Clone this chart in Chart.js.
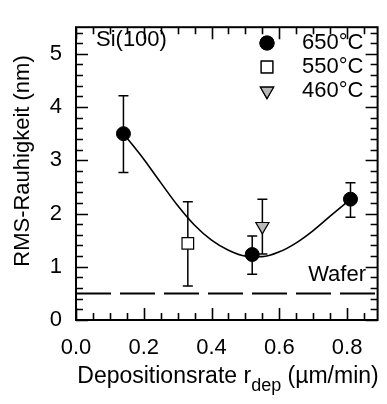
<!DOCTYPE html>
<html>
<head>
<meta charset="utf-8">
<script src="https://cdn.jsdelivr.net/npm/chart.js@4"></script>
<style>
  html, body { margin: 0; padding: 0; background: #fff; }
  #wrap { width: 387px; height: 404px; }
</style>
</head>
<body>
<div id="wrap"><canvas id="c" width="387" height="404"></canvas></div>
<script>
const FONT = '"Liberation Sans", Arial, sans-serif';

// 650 °C series
const x650 = [0.14, 0.52, 0.81];
const y650 = [3.50, 1.23, 2.27];
const lo650 = [2.77, 0.86, 1.93];
const hi650 = [4.21, 1.58, 2.58];

// 550 °C series
const x550 = [0.33];
const y550 = [1.44];
const lo550 = [0.64];
const hi550 = [2.22];

// 460 °C series
const x460 = [0.55];
const y460 = [1.76];
const lo460 = [1.24];
const hi460 = [2.27];

// fit curve through the 650 °C points
const fitX = [0.14, 0.20, 0.25, 0.30, 0.35, 0.40, 0.45, 0.50, 0.55, 0.60, 0.65, 0.70, 0.75, 0.81];
const fitY = [3.50, 3.02, 2.58, 2.15, 1.78, 1.50, 1.31, 1.20, 1.19, 1.28, 1.45, 1.68, 1.95, 2.27];

const waferLevel = 0.5;

const xTicks = [0.0, 0.2, 0.4, 0.6, 0.8];
const yTicks = [0, 1, 2, 3, 4, 5];
const xMinor = [0.05, 0.1, 0.15, 0.25, 0.3, 0.35, 0.45, 0.5, 0.55, 0.65, 0.7, 0.75, 0.85];
const yMinor = [0.2, 0.4, 0.6, 0.8, 1.2, 1.4, 1.6, 1.8, 2.2, 2.4, 2.6, 2.8, 3.2, 3.4, 3.6, 3.8, 4.2, 4.4, 4.6, 4.8, 5.2, 5.4];

const legendItems = [
    { label: '650°C', style: 'circle', fill: '#000', radius: 7 },
    { label: '550°C', style: 'rect', fill: '#fff', radius: 8.2 },
    { label: '460°C', style: 'triangle', fill: '#b8b8b8', radius: 7.6, rotation: 180 }
];

function toPoints(xs, ys) {
    const pts = [];
    for (let i = 0; i < xs.length; i++) {
        pts.push({ x: xs[i], y: ys[i] });
    }
    return pts;
}

// error bars, frame, inner ticks, legend and labels
const decorations = {
    id: 'decorations',
    beforeDatasetsDraw: function(chart) {
        const ctx = chart.ctx;
        const xs = chart.scales.x;
        const ys = chart.scales.y;
        const groups = [[x650, lo650, hi650], [x550, lo550, hi550], [x460, lo460, hi460]];
        ctx.save();
        ctx.strokeStyle = '#000';
        ctx.lineWidth = 1.5;
        for (let g = 0; g < groups.length; g++) {
            const gx = groups[g][0], glo = groups[g][1], ghi = groups[g][2];
            for (let i = 0; i < gx.length; i++) {
                const px = xs.getPixelForValue(gx[i]);
                const p1 = ys.getPixelForValue(glo[i]);
                const p2 = ys.getPixelForValue(ghi[i]);
                ctx.beginPath();
                ctx.moveTo(px, p1); ctx.lineTo(px, p2);
                ctx.moveTo(px - 5, p1); ctx.lineTo(px + 5, p1);
                ctx.moveTo(px - 5, p2); ctx.lineTo(px + 5, p2);
                ctx.stroke();
            }
        }
        ctx.restore();
    },
    afterDraw: function(chart) {
        const ctx = chart.ctx;
        const a = chart.chartArea;
        const xs = chart.scales.x;
        const ys = chart.scales.y;
        ctx.save();
        ctx.strokeStyle = '#000';
        ctx.lineWidth = 2;
        ctx.strokeRect(a.left, a.top, a.right - a.left, a.bottom - a.top);

        ctx.lineWidth = 1.6;
        ctx.beginPath();
        function xt(v, len) {
            const px = Math.round(xs.getPixelForValue(v)) + 0.5;
            ctx.moveTo(px, a.bottom); ctx.lineTo(px, a.bottom - len);
            ctx.moveTo(px, a.top); ctx.lineTo(px, a.top + len);
        }
        function yt(v, len) {
            const py = Math.round(ys.getPixelForValue(v)) + 0.5;
            ctx.moveTo(a.left, py); ctx.lineTo(a.left + len, py);
            ctx.moveTo(a.right, py); ctx.lineTo(a.right - len, py);
        }
        xTicks.forEach(function(v) { xt(v, 12); });
        xMinor.forEach(function(v) { xt(v, 7); });
        yTicks.forEach(function(v) { yt(v, 12); });
        yMinor.forEach(function(v) { yt(v, 7); });
        ctx.stroke();

        ctx.fillStyle = '#000';
        ctx.font = '22px ' + FONT;
        ctx.textBaseline = 'middle';
        ctx.textAlign = 'left';
        ctx.fillText('Si(100)', 96, 40);

        for (let i = 0; i < legendItems.length; i++) {
            const it = legendItems[i];
            const cy = 43 + i * 24;
            ctx.fillStyle = '#000';
            ctx.fillText(it.label, 302, cy);
            ctx.fillStyle = it.fill;
            ctx.strokeStyle = '#000';
            ctx.lineWidth = 1.2;
            Chart.helpers.drawPoint(ctx, { pointStyle: it.style, radius: it.radius, rotation: it.rotation || 0, borderWidth: 1.2 }, 267, cy);
            ctx.fill();
            ctx.stroke();
        }

        ctx.fillStyle = '#000';
        ctx.textAlign = 'right';
        ctx.fillText('Wafer', 366, ys.getPixelForValue(waferLevel) - 18);

        // x axis title with subscript
        ctx.textBaseline = 'alphabetic';
        ctx.textAlign = 'left';
        const mainFont = '23px ' + FONT;
        const subFont = '18px ' + FONT;
        const t1 = 'Depositionsrate r', t2 = 'dep', t3 = ' (µm/min)';
        ctx.font = mainFont;
        const w1 = ctx.measureText(t1).width;
        const w3 = ctx.measureText(t3).width;
        ctx.font = subFont;
        const w2 = ctx.measureText(t2).width;
        let sx = 228 - (w1 + w2 + w3) / 2;
        ctx.font = mainFont;
        ctx.fillText(t1, sx, 383);
        ctx.font = subFont;
        ctx.fillText(t2, sx + w1, 391);
        ctx.font = mainFont;
        ctx.fillText(t3, sx + w1 + w2, 383);

        // y axis title
        ctx.font = '22px ' + FONT;
        ctx.translate(23, 161);
        ctx.rotate(-Math.PI / 2);
        ctx.textAlign = 'center';
        ctx.textBaseline = 'middle';
        ctx.fillText('RMS-Rauhigkeit (nm)', 0, 0);
        ctx.restore();
    }
};

window.onload = function() {
    const ctx = document.getElementById('c');
    new Chart(ctx, {
        type: 'scatter',
        data: {
            datasets: [
                {
                    label: '650°C',
                    data: toPoints(x650, y650),
                    pointStyle: 'circle',
                    pointRadius: 7,
                    backgroundColor: '#000',
                    borderColor: '#000',
                    borderWidth: 1,
                    order: 0
                },
                {
                    label: '550°C',
                    data: toPoints(x550, y550),
                    pointStyle: 'rect',
                    pointRadius: 8.2,
                    backgroundColor: '#fff',
                    borderColor: '#000',
                    borderWidth: 1.2,
                    order: 0
                },
                {
                    label: '460°C',
                    data: toPoints(x460, y460),
                    pointStyle: 'triangle',
                    rotation: 180,
                    pointRadius: 7.6,
                    backgroundColor: '#b8b8b8',
                    borderColor: '#000',
                    borderWidth: 1.2,
                    order: 0
                },
                {
                    type: 'line',
                    label: 'fit',
                    data: toPoints(fitX, fitY),
                    borderColor: '#000',
                    borderWidth: 1.6,
                    pointRadius: 0,
                    cubicInterpolationMode: 'monotone',
                    fill: false,
                    order: 1
                },
                {
                    type: 'line',
                    label: 'Wafer',
                    data: [{ x: 0, y: waferLevel }, { x: 0.89, y: waferLevel }],
                    borderColor: '#000',
                    borderWidth: 2,
                    borderDash: [35, 9],
                    pointRadius: 0,
                    fill: false,
                    order: 2
                }
            ]
        },
        options: {
            responsive: false,
            animation: false,
            layout: { padding: { top: 13, right: 9, left: 0, bottom: 0 } },
            plugins: {
                legend: { display: false },
                tooltip: { enabled: false }
            },
            scales: {
                x: {
                    type: 'linear',
                    min: 0,
                    max: 0.89,
                    grid: { display: false, drawTicks: false },
                    border: { display: false },
                    afterBuildTicks: function(scale) {
                        scale.ticks = xTicks.map(function(v) { return { value: v }; });
                    },
                    afterFit: function(scale) { scale.height = 84; },
                    ticks: {
                        padding: 15,
                        color: '#000',
                        font: { family: FONT, size: 22 },
                        maxRotation: 0,
                        callback: function(v) { return Number(v).toFixed(1); }
                    }
                },
                y: {
                    type: 'linear',
                    min: 0,
                    max: 5.5,
                    grid: { display: false, drawTicks: false },
                    border: { display: false },
                    afterBuildTicks: function(scale) {
                        scale.ticks = yTicks.map(function(v) { return { value: v }; });
                    },
                    afterFit: function(scale) { scale.width = 76; },
                    ticks: {
                        padding: 14,
                        color: '#000',
                        font: { family: FONT, size: 22 },
                        callback: function(v) { return String(v); }
                    }
                }
            }
        },
        plugins: [decorations]
    });
};
</script>
</body>
</html>
